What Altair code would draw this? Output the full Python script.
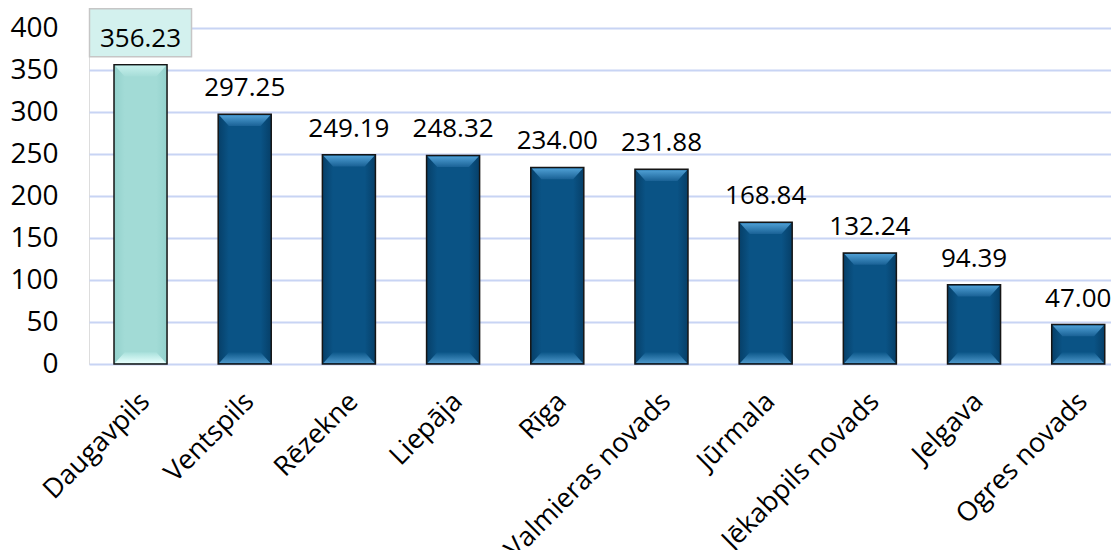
import altair as alt
import pandas as pd

categories = ["Daugavpils", "Ventspils", "Rēzekne", "Liepāja", "Rīga",
              "Valmieras novads", "Jūrmala", "Jēkabpils novads", "Jelgava", "Ogres novads"]
values = [356.23, 297.25, 249.19, 248.32, 234.00, 231.88, 168.84, 132.24, 94.39, 47.00]
highlight = "Daugavpils"
y_ticks = [0, 50, 100, 150, 200, 250, 300, 350, 400]

df = pd.DataFrame({"category": categories, "value": values})

FONT = "Open Sans"
BLUE_FILL = alt.Gradient(gradient="linear", x1=0, x2=1, y1=0, y2=0,
                         stops=[alt.GradientStop(offset=0, color="#063f68"),
                                alt.GradientStop(offset=0.2, color="#0a5385"),
                                alt.GradientStop(offset=0.8, color="#0a5385"),
                                alt.GradientStop(offset=1, color="#063f68")])
TEAL_FILL = alt.Gradient(gradient="linear", x1=0, x2=1, y1=0, y2=0,
                         stops=[alt.GradientStop(offset=0, color="#93d1cc"),
                                alt.GradientStop(offset=0.2, color="#a2dbd6"),
                                alt.GradientStop(offset=0.8, color="#a2dbd6"),
                                alt.GradientStop(offset=1, color="#93d1cc")])

xscale = alt.Scale(paddingInner=0.491, paddingOuter=0.15, align=0.8)
yscale = alt.Scale(domain=[0, 400], nice=False)

x_enc = alt.X("category:N", sort=categories, scale=xscale,
              axis=alt.Axis(labelAngle=-45, labelAlign="right", labelBaseline="middle",
                            labelPadding=33, labelOffset=5, ticks=False, domain=False,
                            title=None, labelFontSize=27, labelFont=FONT,
                            labelColor="#000000", labelLimit=600, labelOverlap=False,
                            grid=False))
y_enc = alt.Y("value:Q", scale=yscale,
              axis=alt.Axis(values=y_ticks, ticks=False, domain=False, title=None,
                            labelPadding=31, labelFontSize=28, labelFont=FONT,
                            labelColor="#000000", gridColor="#c8d4f4", gridWidth=2))

base = alt.Chart(df)
is_hl = alt.datum.category == highlight

bars = base.mark_bar(stroke="#151515", strokeWidth=1.5).encode(
    x=x_enc, y=y_enc,
    fill=alt.condition(is_hl, alt.value(TEAL_FILL), alt.value(BLUE_FILL)),
)

TOP_PATH = "M-1,0L1,0L0.62,0.42L-0.62,0.42Z"
BOT_PATH = "M-1,0L1,0L0.62,-0.42L-0.62,-0.42Z"


def grad(c1, c2):
    return alt.Gradient(gradient="linear", x1=0, x2=0, y1=0, y2=1,
                        stops=[alt.GradientStop(offset=0, color=c1),
                               alt.GradientStop(offset=1, color=c2)])


def bevel(filter_expr, top_fill, bot_fill):
    b = base.transform_filter(filter_expr)
    top = b.mark_point(shape=TOP_PATH, size=2601, filled=True, opacity=1,
                       strokeWidth=0, fill=top_fill, yOffset=1).encode(
        x=alt.X("category:N", sort=categories, scale=xscale),
        y=alt.Y("value:Q", scale=yscale))
    bot = b.mark_point(shape=BOT_PATH, size=2601, filled=True, opacity=1,
                       strokeWidth=0, fill=bot_fill, yOffset=-1).encode(
        x=alt.X("category:N", sort=categories, scale=xscale),
        y=alt.datum(0, scale=yscale))
    return [top, bot]


bev_blue = bevel(alt.datum.category != highlight,
                 grad("#4f9fd4", "#1a6296"), grad("#0c5789", "#4a95c8"))
bev_teal = bevel(alt.datum.category == highlight,
                 grad("#c6f0ec", "#a6ddd8"), grad("#a8e0db", "#e6fffd"))

box = base.transform_filter(is_hl).mark_bar(
    size=102, fill="#d3f1ee", stroke="#c6c6c6", strokeWidth=1.5,
    yOffset=-56, y2Offset=-8).encode(
    x=alt.X("category:N", sort=categories, scale=xscale),
    y=alt.Y("value:Q", scale=yscale),
    y2=alt.Y2("value:Q"))

labels = base.mark_text(font=FONT, fontSize=26, color="#000000",
                        baseline="alphabetic", align="center", dy=-18).encode(
    x=alt.X("category:N", sort=categories, scale=xscale),
    y=alt.Y("value:Q", scale=yscale),
    text=alt.Text("value:Q", format=".2f"))

chart = alt.layer(bars, *bev_blue, *bev_teal, box, labels).properties(
    width=1022, height=336,
    autosize=alt.AutoSizeParams(type="none"),
    padding={"left": 81, "top": 20, "right": 0, "bottom": 186},
).configure_view(stroke=None).configure(background="white")

chart.save("out.html", embed_options={"renderer": "svg", "actions": False})
